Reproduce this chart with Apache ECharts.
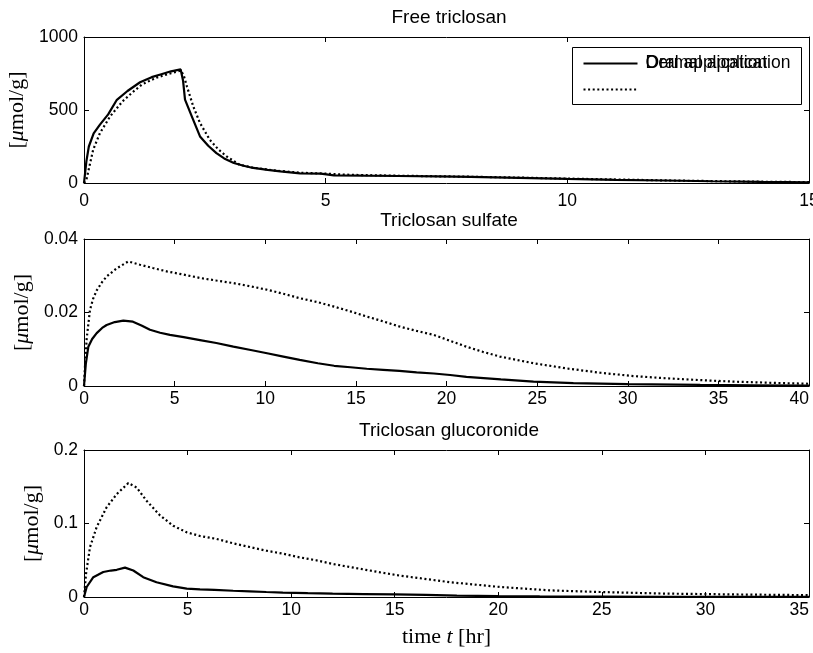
<!DOCTYPE html>
<html>
<head>
<meta charset="utf-8">
<script src="https://cdn.jsdelivr.net/npm/echarts@6/dist/echarts.min.js"></script>
<style>
html,body{margin:0;padding:0;background:#fff;}
#chart{width:813px;height:653px;}
</style>
</head>
<body>
<div id="chart"></div>
<script>
// ---- Titles / labels ----
const panelTitles = ['Free triclosan', 'Triclosan sulfate', 'Triclosan glucoronide'];
const legendNames = ['Oral application', 'Dermal application'];

// ---- Axis ranges / ticks ----
const xMax = [15, 40, 35];
const xInterval = [5, 5, 5];
const yMax = [1000, 0.04, 0.2];
const yInterval = [500, 0.02, 0.1];

// ---- Free triclosan ----
const freeOralT = [0, 0.05, 0.1, 0.2, 0.33, 0.5, 0.68, 0.9, 1.16, 1.4, 1.6, 1.8, 2.0, 2.05, 2.09, 2.23, 2.4, 2.57, 2.74, 2.9, 3.1, 3.3, 3.5, 3.8, 4.06, 4.47, 4.9, 5.17, 5.8, 6.5, 7.3, 8, 9, 10, 11, 12, 13, 14, 15];
const freeOralV = [0, 150, 250, 340, 400, 470, 570, 630, 690, 725, 745, 765, 778, 700, 571, 456, 319, 255, 205, 168, 137, 118, 103, 90, 79, 66, 64, 52, 50, 48, 45, 42, 35, 28, 22, 17, 12, 8, 5];
const freeDermT = [0, 0.05, 0.19, 0.33, 0.54, 0.8, 1.0, 1.2, 1.5, 1.8, 2.0, 2.06, 2.13, 2.26, 2.4, 2.6, 2.78, 2.95, 3.22, 3.5, 4.0, 4.5, 5.0, 5.5, 6.5, 7.3, 8, 9, 10, 11, 12, 13, 14, 15];
const freeDermV = [0, 23, 228, 342, 456, 560, 620, 675, 722, 752, 770, 740, 661, 525, 411, 297, 230, 182, 125, 105, 84, 70, 64, 56, 50, 46, 43, 37, 30, 24, 18, 13, 9, 6];

// ---- Triclosan sulfate ----
const sulfOralT = [0, 0.1, 0.24, 0.45, 0.7, 1.0, 1.25, 1.7, 2.17, 2.7, 3.2, 3.64, 4.2, 4.74, 5.5, 6.4, 7.3, 8.24, 9.2, 10.1, 11, 11.9, 12.9, 13.8, 14.7, 15.6, 16.5, 17.4, 18.35, 19.3, 20.2, 21.1, 23, 24.8, 27, 30, 34, 37, 40];
const sulfOralV = [0, 0.006, 0.0107, 0.0128, 0.0144, 0.0158, 0.0166, 0.0174, 0.0178, 0.0175, 0.0164, 0.0153, 0.0145, 0.0139, 0.0133, 0.0125, 0.0117, 0.0107, 0.0098, 0.0089, 0.008, 0.0071, 0.0062, 0.0055, 0.0051, 0.0047, 0.0044, 0.0041, 0.0037, 0.0034, 0.003, 0.0025, 0.0018, 0.0012, 0.0008, 0.0005, 0.0003, 0.0002, 0.0001];
const sulfDermT = [0, 0.05, 0.15, 0.33, 0.5, 0.7, 1.0, 1.25, 1.8, 2.44, 3.09, 3.8, 4.56, 5.5, 6.4, 7.3, 8.24, 9.2, 10.1, 11, 11.9, 12.9, 13.8, 14.7, 15.6, 16.5, 17.4, 18.35, 19.3, 20.2, 21.1, 22, 22.95, 24.8, 26.6, 28.5, 30.3, 32.1, 34, 35.8, 37.7, 40];
const sulfDermV = [0, 0.005, 0.013, 0.0207, 0.0237, 0.026, 0.0283, 0.0298, 0.032, 0.0339, 0.033, 0.0321, 0.0312, 0.0303, 0.0294, 0.0287, 0.028, 0.0271, 0.0262, 0.0251, 0.0239, 0.0228, 0.0216, 0.0203, 0.0189, 0.0176, 0.0162, 0.015, 0.0139, 0.0123, 0.0107, 0.0093, 0.008, 0.0062, 0.0048, 0.0036, 0.0027, 0.0021, 0.0016, 0.0012, 0.0009, 0.0006];

// ---- Triclosan glucoronide ----
const glucOralT = [0, 0.13, 0.45, 0.93, 1.3, 1.58, 1.98, 2.38, 2.86, 3.5, 4.3, 4.96, 5.6, 6.3, 7.2, 8, 8.8, 9.6, 10.8, 12, 13.5, 15, 16.5, 18, 20, 22, 25, 28, 31, 35];
const glucOralV = [0, 0.0136, 0.027, 0.034, 0.036, 0.037, 0.040, 0.036, 0.027, 0.020, 0.0145, 0.0114, 0.0105, 0.0097, 0.0085, 0.0077, 0.0068, 0.006, 0.0052, 0.0045, 0.004, 0.0035, 0.0028, 0.002, 0.0012, 0.0008, 0.0005, 0.0003, 0.0002, 0.0001];
const glucDermT = [0, 0.1, 0.29, 0.61, 1.09, 1.58, 2.14, 2.54, 3.02, 3.67, 4.3, 4.96, 5.6, 6.4, 7.2, 8.0, 8.8, 9.6, 10.4, 11.2, 12, 12.8, 13.6, 14.4, 15.26, 16.1, 17.7, 20.1, 22.5, 24.9, 28.1, 31.3, 35];
const glucDermV = [0, 0.032, 0.068, 0.095, 0.122, 0.14, 0.155, 0.149, 0.131, 0.111, 0.097, 0.088, 0.083, 0.079, 0.073, 0.068, 0.063, 0.059, 0.054, 0.05, 0.045, 0.041, 0.037, 0.033, 0.029, 0.026, 0.02, 0.0136, 0.009, 0.0068, 0.0046, 0.0035, 0.0025];

const pairs = (t, v) => t.map((x, i) => [x, v[i]]);
const oralSets = [pairs(freeOralT, freeOralV), pairs(sulfOralT, sulfOralV), pairs(glucOralT, glucOralV)];
const dermSets = [pairs(freeDermT, freeDermV), pairs(sulfDermT, sulfDermV), pairs(glucDermT, glucDermV)];

const SANS = 'Liberation Sans, Arial, Helvetica, sans-serif';
const SERIF = 'Liberation Serif, Times New Roman, serif';

const grids = [
  { left: 84, right: 4, top: 37, height: 146, outerBoundsMode: 'none', containLabel: false },
  { left: 84, right: 4, top: 239, height: 147, outerBoundsMode: 'none', containLabel: false },
  { left: 84, right: 4, top: 450, height: 147, outerBoundsMode: 'none', containLabel: false }
];
const titleTops = [8, 211, 421];
const xLabelMargin = [9, 4, 4];
const xMaxAlign = ['center', 'right', 'right'];
const yNameGap = [47, 42, 33];

const tick = { show: true, inside: true, length: 5, lineStyle: { color: '#000', width: 1 } };
const line = { show: true, onZero: false, lineStyle: { color: '#000', width: 1 } };
const plain = v => String(+v.toPrecision(6));

const xAxes = [], yAxes = [], series = [], titles = [];
for (let i = 0; i < 3; i++) {
  titles.push({
    text: panelTitles[i], left: 449, top: titleTops[i], textAlign: 'center', padding: 0,
    textStyle: { fontFamily: SANS, fontSize: 19, fontWeight: 'normal', color: '#000' }
  });
  const xa = {
    type: 'value', gridIndex: i, min: 0, max: xMax[i], interval: xInterval[i], position: 'bottom',
    axisLine: line, axisTick: tick, splitLine: { show: false },
    axisLabel: { fontFamily: SANS, fontSize: 17.5, color: '#000', margin: xLabelMargin[i], showMaxLabel: true,
      alignMaxLabel: xMaxAlign[i], formatter: plain, hideOverlap: false }
  };
  if (i === 2) {
    xa.name = 'time {i|t} [hr]';
    xa.nameLocation = 'middle';
    xa.nameGap = 29;
    xa.nameTextStyle = { fontFamily: SERIF, fontSize: 22, color: '#000',
      rich: { i: { fontFamily: SERIF, fontSize: 22, fontStyle: 'italic', color: '#000' } } };
  }
  xAxes.push(xa);
  yAxes.push({
    type: 'value', gridIndex: i, min: 0, max: yMax[i], interval: yInterval[i], position: 'left',
    axisLine: line, axisTick: tick, splitLine: { show: false },
    axisLabel: { fontFamily: SANS, fontSize: 17.5, color: '#000', margin: 6, formatter: plain },
    name: '[{i|μ}mol/g]', nameLocation: 'middle', nameRotate: 90, nameGap: yNameGap[i],
    nameTextStyle: { fontFamily: SERIF, fontSize: 22, color: '#000',
      rich: { i: { fontFamily: SERIF, fontSize: 22, fontStyle: 'italic', color: '#000' } } }
  });
  series.push({
    name: legendNames[0], type: 'line', xAxisIndex: i, yAxisIndex: i, data: oralSets[i],
    showSymbol: false, symbol: 'none', smooth: false, z: 3,
    lineStyle: { color: '#000', width: 2.2 }
  });
  series.push({
    name: legendNames[1], type: 'line', xAxisIndex: i, yAxisIndex: i, data: dermSets[i],
    showSymbol: false, symbol: 'none', smooth: false, z: 2,
    lineStyle: { color: '#000', width: 2.2, type: [2, 2.6] }
  });
}
// mirror axes (top and right) with inward ticks, no labels
for (let i = 0; i < 3; i++) {
  xAxes.push({
    type: 'value', gridIndex: i, min: 0, max: xMax[i], interval: xInterval[i], position: 'top',
    axisLine: line, axisTick: tick, axisLabel: { show: false }, splitLine: { show: false }
  });
  yAxes.push({
    type: 'value', gridIndex: i, min: 0, max: yMax[i], interval: yInterval[i], position: 'right',
    axisLine: line, axisTick: tick, axisLabel: { show: false }, splitLine: { show: false }
  });
}

const chart = echarts.init(document.getElementById('chart'), null, { renderer: 'canvas' });
chart.setOption({
  backgroundColor: '#fff',
  animation: false,
  title: titles,
  grid: grids,
  xAxis: xAxes,
  yAxis: yAxes,
  series: series,
  graphic: [{
    type: 'group', left: 572, top: 47, z: 100,
    children: [
      { type: 'rect', shape: { x: 0, y: 0, width: 229, height: 57 },
        style: { fill: '#fff', stroke: '#000', lineWidth: 1 } },
      { type: 'line', shape: { x1: 11, y1: 16, x2: 65, y2: 16 },
        style: { stroke: '#000', lineWidth: 2.2 } },
      { type: 'line', shape: { x1: 11, y1: 42, x2: 65, y2: 42 },
        style: { stroke: '#000', lineWidth: 2.2, lineDash: [2, 2.6] } },
      { type: 'text', x: 73, y: 16,
        style: { text: legendNames[0], font: '17.5px ' + SANS, fill: '#000', verticalAlign: 'middle' } },
      { type: 'text', x: 73, y: 16,
        style: { text: legendNames[1], font: '17.5px ' + SANS, fill: '#000', verticalAlign: 'middle' } }
    ]
  }]
});
</script>
</body>
</html>
